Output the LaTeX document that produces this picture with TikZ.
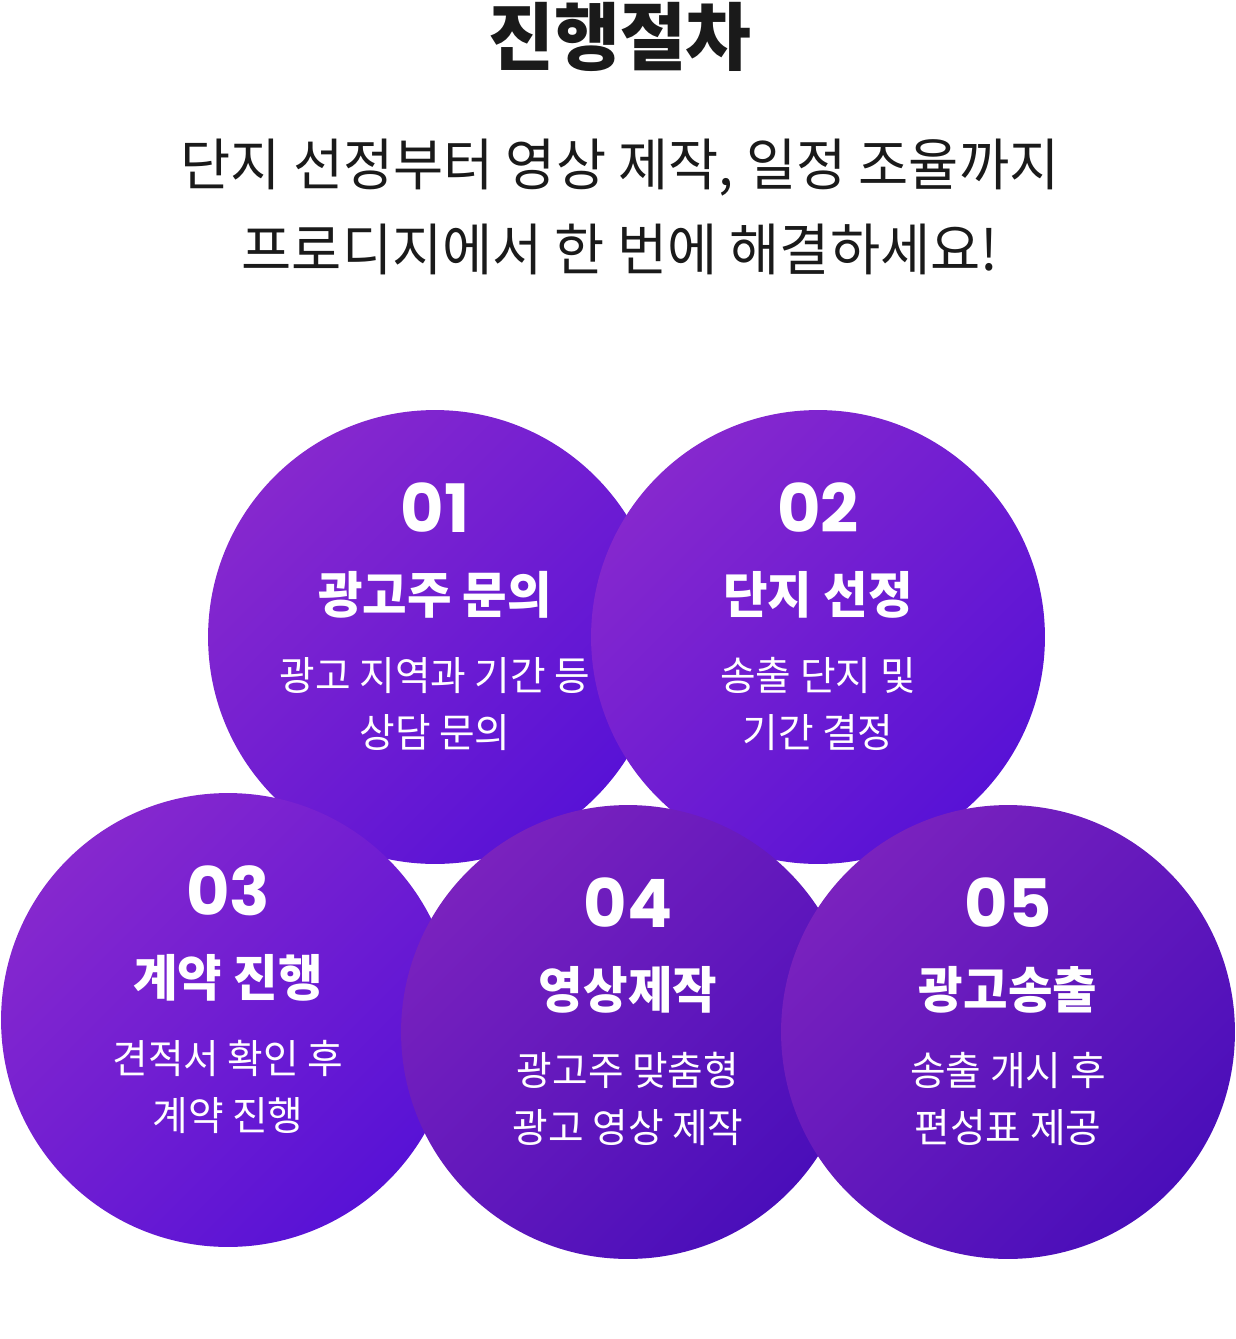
\documentclass[tikz,border=0pt]{standalone}
\usepackage{fontspec}
\setmainfont{Noto Sans CJK KR}[FakeStretch=0.97]
\newfontfamily\numfont{Poppins}
\definecolor{inktext}{RGB}{26,26,26}
\definecolor{violettop}{RGB}{134,40,206}
\definecolor{violetbot}{RGB}{88,18,214}
\definecolor{plumtop}{RGB}{122,34,190}
\definecolor{plumbot}{RGB}{74,14,186}
\tikzset{
  stepcircle/.style 2 args={circle,inner sep=0pt,minimum size=9.08cm,
    top color=#1,bottom color=#2,shading angle=45},
  stepnum/.style={text=white,font=\numfont\bfseries\fontsize{38}{38}\selectfont},
  stephead/.style={text=white,font=\bfseries\fontsize{28.4}{34}\selectfont},
  stepdesc/.style={text=white,align=center,font=\fontsize{22.7}{32.3}\selectfont}
}
\begin{document}
\begin{tikzpicture}[x=0.02cm,y=-0.02cm]
    \useasboundingbox (0,0) rectangle (1236,1339);
    \node[text=inktext,font=\bfseries\fontsize{42}{42}\selectfont] (title) at (620,37) {진행절차};
    \node[text=inktext,align=center,font=\fontsize{32}{48.2}\selectfont] (subtitle) at (620,207)
        {단지 선정부터 영상 제작, 일정 조율까지\\프로디지에서 한 번에 해결하세요!};
    % circles, later ones on top
    \foreach \i/\x/\y/\ctop/\cbot in {1/435/637/violettop/violetbot,2/818/637/violettop/violetbot,
        3/228/1020/violettop/violetbot,4/628/1032/plumtop/plumbot,5/1008/1032/plumtop/plumbot}
        \node[stepcircle={\ctop}{\cbot}] (step\i) at (\x,\y) {};
    % texts
    \foreach \i/\x/\y/\head/\lineA/\lineB in {1/435/637/광고주 문의/광고 지역과 기간 등/상담 문의,
        2/818/637/단지 선정/송출 단지 및/기간 결정,
        3/228/1020/계약 진행/견적서 확인 후/계약 진행,
        4/628/1032/영상제작/광고주 맞춤형/광고 영상 제작,
        5/1008/1032/광고송출/송출 개시 후/편성표 제공}{
        \node[stepnum] (num\i) at (\x,\y-129) {0\i};
        \node[stephead] (head\i) at (\x,\y-42) {\head};
        \node[stepdesc] (desc\i) at (\x,\y+67) {\lineA\\\lineB};
    }
\end{tikzpicture}
\end{document}
